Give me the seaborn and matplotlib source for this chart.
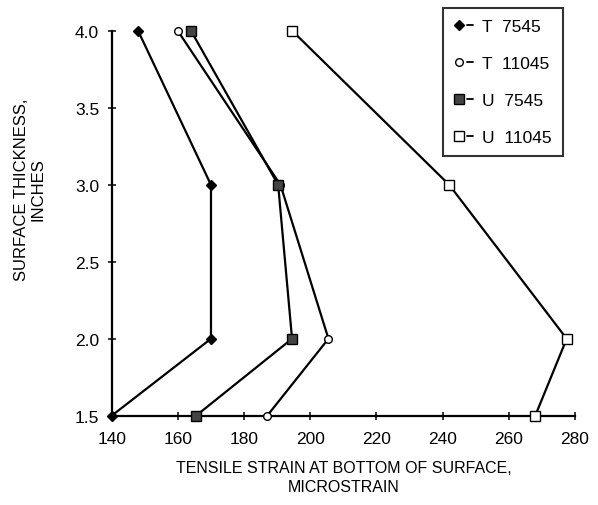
import matplotlib
matplotlib.use("Agg")
import matplotlib.pyplot as plt
import seaborn as sns
import pandas as pd
from matplotlib.lines import Line2D
from matplotlib.legend_handler import HandlerBase

# ---- data ----
thickness = [1.5, 2.0, 3.0, 4.0]
t7545 = [140, 170, 170, 148]
t11045 = [187, 205.5, 191, 160]
u7545 = [165.5, 194.5, 190.3, 164]
u11045 = [268, 277.5, 242, 194.6]
series_names = ["T  7545", "T  11045", "U  7545", "U  11045"]
x_ticks = [140, 160, 180, 200, 220, 240, 260, 280]
y_ticks = [1.5, 2.0, 2.5, 3.0, 3.5, 4.0]

sns.set_theme(style="white")
plt.rcParams["font.family"] = ["Liberation Sans", "DejaVu Sans"]
plt.rcParams["text.color"] = "black"
plt.rcParams["axes.labelcolor"] = "black"
plt.rcParams["xtick.color"] = "black"
plt.rcParams["ytick.color"] = "black"
plt.rcParams["xtick.bottom"] = True
plt.rcParams["ytick.left"] = True
plt.rcParams["xtick.direction"] = "inout"
plt.rcParams["ytick.direction"] = "inout"
plt.rcParams["xtick.major.size"] = 6
plt.rcParams["ytick.major.size"] = 6
plt.rcParams["xtick.major.width"] = 1.1
plt.rcParams["ytick.major.width"] = 1.1

fig = plt.figure(figsize=(5.98, 5.06), dpi=100)
ax = fig.add_axes([0.1868, 0.1765, 0.7747, 0.7603])

styles = [
    dict(marker="D", mfc="black", ms=5.5),
    dict(marker="o", mfc="white", ms=5.5),
    dict(marker="s", mfc="#444444", ms=6.5),
    dict(marker="s", mfc="white", ms=6.5),
]
values = [t7545, t11045, u7545, u11045]

for name, vals, st in zip(series_names, values, styles):
    df = pd.DataFrame({"strain": vals, "thickness": thickness})
    sns.lineplot(data=df, x="strain", y="thickness", sort=False, estimator=None,
                 color="black", lw=1.6, marker=st["marker"], mfc=st["mfc"],
                 mec="black", mew=1.0, ms=st["ms"], clip_on=False, ax=ax,
                 label=name, legend=False, zorder=3)

ax.set_xlim(140, 280)
ax.set_ylim(1.5, 4.0)
ax.set_xticks(x_ticks)
ax.set_yticks(y_ticks)
ax.set_xticklabels([str(v) for v in x_ticks])
ax.set_yticklabels([f"{v:.1f}" for v in y_ticks])
for s in ["top", "right"]:
    ax.spines[s].set_visible(False)
for s in ["left", "bottom"]:
    ax.spines[s].set_color("black")
    ax.spines[s].set_linewidth(1.6)
ax.tick_params(axis="both", which="major", direction="inout", length=6,
               width=1.1, colors="black", labelsize=12.5, pad=6,
               bottom=True, left=True)
ax.tick_params(axis="x", pad=8)

lab_font = ["Liberation Sans Narrow", "Liberation Sans", "DejaVu Sans"]
ax.set_xlabel("TENSILE STRAIN AT BOTTOM OF SURFACE,\nMICROSTRAIN",
              fontsize=11.5, family=lab_font, linespacing=1.35, labelpad=10)
ax.set_ylabel("SURFACE THICKNESS,\nINCHES", fontsize=12, family=lab_font,
              linespacing=1.2)
ax.yaxis.set_label_coords(-0.142, 0.59)


class MarkerDash(HandlerBase):
    def create_artists(self, legend, orig, xdescent, ydescent, width, height,
                       fontsize, trans):
        y = height / 2 - ydescent
        m = Line2D([-xdescent + 0.25 * width], [y], linestyle="none",
                   marker=orig.get_marker(), mfc=orig.get_markerfacecolor(),
                   mec="black", mew=1.0, ms=orig.get_markersize(), transform=trans)
        d = Line2D([-xdescent + 0.6 * width, -xdescent + 0.9 * width], [y, y],
                   color="black", lw=1.3, transform=trans)
        return [m, d]


handles, labels = ax.get_legend_handles_labels()
leg = fig.legend(handles, labels, loc="upper left",
                 bbox_to_anchor=(443 / 598, 1 - 9 / 506),
                 handler_map={Line2D: MarkerDash()}, handlelength=1.2,
                 handletextpad=0.4, labelspacing=1.25, borderpad=0.65,
                 fontsize=12.5, frameon=True, fancybox=False,
                 borderaxespad=0)
fr = leg.get_frame()
fr.set_edgecolor("black")
fr.set_linewidth(1.5)

fig.savefig("out.png", dpi=100, facecolor="white")
